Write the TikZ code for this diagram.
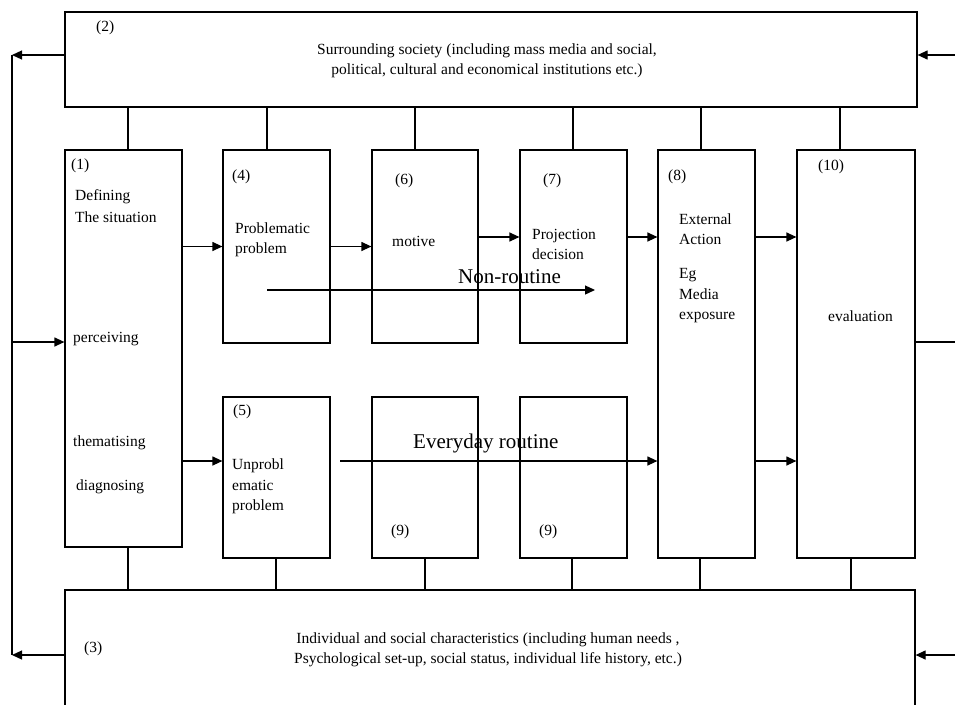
\documentclass[tikz,border=0pt]{standalone}
\usepackage{fontspec}
\setmainfont{Liberation Serif}
\usetikzlibrary{arrows.meta,positioning}

\begin{document}
\begin{tikzpicture}[
    x=1pt, y=-1pt,
    box/.style={draw, line width=1.2pt, inner sep=0pt},
    link/.style={line width=1.2pt},
    arr/.style={-{Triangle[length=10pt,width=9pt]}, line width=1.2pt},
    lbl/.style={anchor=west, inner sep=0pt, font=\fontsize{15.5}{20.5}\selectfont},
    big/.style={anchor=west, inner sep=0pt, font=\fontsize{21}{25}\selectfont}
]
\clip (0,0) rectangle (955,704);

% outer layers
\node[box, minimum width=852pt, minimum height=95pt] (soc) at (491,59.5) {};
\node[box, minimum width=850pt, minimum height=130pt] (indiv) at (490,655) {};

% columns
\node[box, minimum width=117pt, minimum height=397pt] (def) at (123.5,348.5) {};
\node[box, minimum width=107pt, minimum height=193pt] (prob) at (276.5,246.5) {};
\node[box, minimum width=106pt, minimum height=193pt] (motive) at (425,246.5) {};
\node[box, minimum width=107pt, minimum height=193pt] (proj) at (573.5,246.5) {};
\node[box, minimum width=97pt, minimum height=408pt] (ext) at (706.5,354) {};
\node[box, minimum width=118pt, minimum height=408pt] (eval) at (856,354) {};
\node[box, minimum width=107pt, minimum height=161pt] (unprob) at (276.5,477.5) {};
\node[box, minimum width=106pt, minimum height=161pt] (routA) at (425,477.5) {};
\node[box, minimum width=107pt, minimum height=161pt] (routB) at (573.5,477.5) {};

% texts
\node[lbl] (n2) at (96,28) {(2)};
\node[lbl, anchor=center, align=center] (tsoc) at (487,61) {Surrounding society (including mass media and social,\\political, cultural and economical institutions etc.)};
\node[lbl] (n3) at (84,649) {(3)};
\node[lbl, anchor=center, align=center] (tindiv) at (488,650) {Individual and social characteristics (including human needs ,\\Psychological set-up, social status, individual life history, etc.)};

\node[lbl] (n1) at (71,166) {(1)};
\node[lbl] (tdef1) at (75,197) {Defining};
\node[lbl] (tdef2) at (75,217) {The situation};
\node[lbl] (tperc) at (73,339) {perceiving};
\node[lbl] (tthem) at (73,443) {thematising};
\node[lbl] (tdiag) at (76,487) {diagnosing};

\node[lbl] (n4) at (232,177) {(4)};
\node[lbl, align=left] (tprob) at (235,240) {Problematic\\problem};
\node[lbl] (n5) at (233,412) {(5)};
\node[lbl, align=left] (tunprob) at (232,486.5) {Unprobl\\ematic\\problem};

\node[lbl] (n6) at (395,181) {(6)};
\node[lbl] (tmotive) at (392,241) {motive};
\node[lbl] (n7) at (543,181) {(7)};
\node[lbl, align=left] (tproj) at (532,244.5) {Projection\\decision};

\node[lbl] (n8) at (668,177) {(8)};
\node[lbl, align=left] (text1) at (679,229) {External\\Action};
\node[lbl, align=left] (text2) at (679,296) {Eg\\Media\\exposure};
\node[lbl] (n10) at (818,167) {(10)};
\node[lbl] (teval) at (828,316) {evaluation};

\node[lbl] (n9a) at (391,532) {(9)};
\node[lbl] (n9b) at (539,532) {(9)};

% links to the outer layers
\foreach \n/\s in {def/4.5, prob/-9.5, motive/-10, proj/-0.5, ext/-5.5, eval/-16}
  \draw[link] ([xshift=\s pt]\n.north) -- ([xshift=\s pt]\n.north |- soc.south);
\foreach \n/\s in {def/4.5, unprob/-0.5, routA/0, routB/-1.5, ext/-6.5, eval/-5}
  \draw[link] ([xshift=\s pt]\n.south) -- ([xshift=\s pt]\n.south |- indiv.north);

% flow
\coordinate (upper) at (0,237);
\coordinate (lower) at (0,461);
\draw[arr] (def.east |- prob.west) -- (prob.west);
\draw[arr] (prob.east) -- (motive.west);
\draw[arr] (upper -| motive.east) -- (upper -| proj.west);
\draw[arr] (upper -| proj.east) -- (upper -| ext.west);
\draw[arr] (upper -| ext.east) -- (upper -| eval.west);
\draw[arr] (lower -| def.east) -- (lower -| unprob.west);
\draw[arr] (lower -| ext.east) -- (lower -| eval.west);

\coordinate (nrA) at (267,290);
\coordinate (nrB) at (595,290);
\draw[arr] (nrA) -- (nrB);
\node[big] (tnonr) at (458,277) {Non-routine};
\coordinate (evA) at (340,461);
\draw[arr] (evA) -- (evA -| ext.west);
\node[big] (tevery) at (413,443) {Everyday routine};

% feedback left
\coordinate (ltop) at (12,55);
\coordinate (lmid) at (12,342);
\coordinate (lbot) at (12,655);
\draw[arr] (ltop -| soc.west) -- (ltop);
\draw[arr] (indiv.west) -- (lbot);
\draw[link] (ltop) -- (lbot);
\draw[arr] (lmid) -- (lmid -| def.west);

% feedback right
\coordinate (rtop) at (955,55);
\coordinate (rmid) at (955,342);
\coordinate (rbot) at (955,655);
\draw[arr] (rtop) -- (rtop -| soc.east);
\draw[arr] (rbot) -- (indiv.east);
\draw[link] (rmid -| eval.east) -- (rmid);
\end{tikzpicture}
\end{document}
